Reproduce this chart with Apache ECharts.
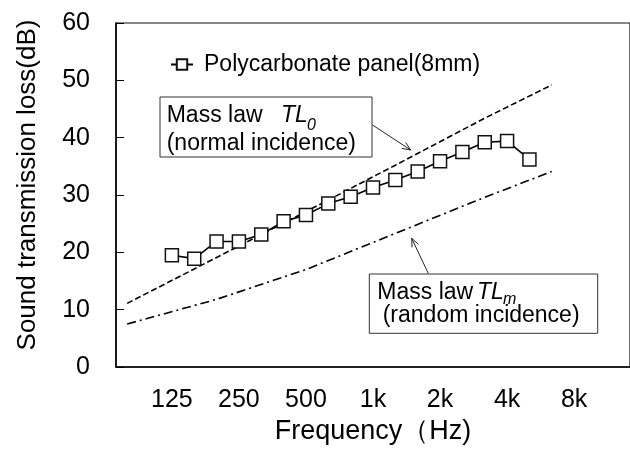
<!DOCTYPE html>
<html>
<head>
<meta charset="utf-8">
<script src="https://cdn.jsdelivr.net/npm/echarts@6/dist/echarts.min.js"></script>
<style>html,body{margin:0;padding:0;background:#fff}#c{width:630px;height:453px}</style>
</head>
<body>
<div id="c"></div>
<script>
// 1/3-octave band centre frequencies on the x axis
const freqBands = ['80','100','125','160','200','250','315','400','500','630','800','1k','1.25k','1.6k','2k','2.5k','3.15k','4k','5k','6.3k','8k','10k','12.5k'];
const tickLabels = ['125','250','500','1k','2k','4k','8k'];

// Measured transmission loss, polycarbonate panel (8mm)
const panelBands = ['125','160','200','250','315','400','500','630','800','1k','1.25k','1.6k','2k','2.5k','3.15k','4k','5k'];
const panelTL = [19.5, 18.9, 21.9, 21.9, 23.1, 25.4, 26.5, 28.5, 29.7, 31.3, 32.6, 34.1, 35.9, 37.5, 39.2, 39.4, 36.2];

// Mass law curves
const massBands = ['80','200','500','1.25k','3.15k','6.3k'];
const massLawNormal = [11.1, 19.1, 27.1, 35.2, 43.4, 49.2];
const massLawRandom = [7.5, 11.8, 17.0, 23.3, 29.6, 34.1];

const seriesName = 'Polycarbonate panel(8mm)';
const FONT = '"Liberation Sans", Arial, sans-serif';

function arrow(x1, y1, x2, y2) {
  const a = Math.atan2(y2 - y1, x2 - x1), L = 9, s = 0.4;
  const p1 = [x2 - L * Math.cos(a - s), y2 - L * Math.sin(a - s)];
  const p2 = [x2 - L * Math.cos(a + s), y2 - L * Math.sin(a + s)];
  return [
    {type: 'line', silent: true, z: 20, shape: {x1, y1, x2, y2}, style: {stroke: '#222', lineWidth: 1}},
    {type: 'polyline', silent: true, z: 20, shape: {points: [p1, [x2, y2], p2]}, style: {stroke: '#222', lineWidth: 1, fill: null}}
  ];
}
function txt(x, y, text, size, italic) {
  return {type: 'text', silent: true, z: 21, x, y,
    style: {text, fill: '#000', font: (italic ? 'italic ' : '') + size + 'px ' + FONT, verticalAlign: 'middle', align: 'left'}};
}

const chart = echarts.init(document.getElementById('c'), null, {renderer: 'canvas'});
chart.setOption({
  animation: false,
  backgroundColor: '#fff',
  textStyle: {fontFamily: FONT, color: '#000'},
  grid: {left: 116, top: 23, width: 523.25, height: 344, show: true, borderColor: '#111', borderWidth: 1.2, backgroundColor: 'transparent'},
  legend: {
    data: [seriesName], left: 165, top: 48, itemWidth: 22, itemHeight: 13,
    textStyle: {fontSize: 23, color: '#000', fontFamily: FONT, padding: [0, 0, 0, 6]}
  },
  xAxis: {
    type: 'category', data: freqBands, boundaryGap: true,
    axisLine: {lineStyle: {color: '#000', width: 1.5}},
    axisTick: {inside: true, length: 5, alignWithLabel: true, interval: 0, lineStyle: {color: '#000', width: 1}},
    axisLabel: {interval: 0, fontSize: 25, color: '#000', margin: 21,
      formatter: v => tickLabels.includes(v) ? v : ''},
    splitLine: {show: false},
    name: 'Frequency（Hz)', nameLocation: 'middle', nameGap: 40,
    nameTextStyle: {fontSize: 27, color: '#000', fontFamily: FONT}
  },
  yAxis: {
    type: 'value', min: 0, max: 60, interval: 10,
    axisLine: {show: true, lineStyle: {color: '#000', width: 1.5}},
    axisTick: {show: true, inside: true, length: 8, lineStyle: {color: '#000', width: 1}},
    axisLabel: {fontSize: 25, color: '#000', margin: 26},
    splitLine: {show: false},
    name: 'Sound transmission loss(dB)', nameLocation: 'middle', nameGap: 75,
    nameTextStyle: {fontSize: 26, color: '#000', fontFamily: FONT, padding: [0, 0, 0, 20]}
  },
  series: [
    {
      name: 'Mass law TL0', type: 'line', z: 2, silent: true, showSymbol: false, symbol: 'none', connectNulls: true,
      data: massBands.map((b, i) => [b, massLawNormal[i]]),
      lineStyle: {color: '#000', width: 1.6, type: [6, 3]}
    },
    {
      name: 'Mass law TLm', type: 'line', z: 2, silent: true, showSymbol: false, symbol: 'none', connectNulls: true,
      data: massBands.map((b, i) => [b, massLawRandom[i]]),
      lineStyle: {color: '#000', width: 1.6, type: [9, 4, 2, 4]}
    },
    {
      name: seriesName, type: 'line', z: 5,
      data: panelBands.map((b, i) => [b, panelTL[i]]),
      symbol: 'rect', symbolSize: 13, showAllSymbol: true,
      itemStyle: {color: '#fff', borderColor: '#111', borderWidth: 1.5},
      lineStyle: {color: '#000', width: 1.6}
    }
  ],
  graphic: [
    {type: 'rect', silent: true, z: 19, shape: {x: 160, y: 97, width: 212, height: 60}, style: {fill: '#fff', stroke: '#333', lineWidth: 1}},
    txt(166.7, 116, 'Mass law', 23, false),
    txt(281, 116, 'TL', 23, true),
    txt(307, 126, '0', 16, true),
    txt(166.7, 144, '(normal incidence)', 23, false),
    ...arrow(372.5, 125, 410.7, 150),
    {type: 'rect', silent: true, z: 19, shape: {x: 369.3, y: 274, width: 228.4, height: 59.3}, style: {fill: '#fff', stroke: '#333', lineWidth: 1}},
    txt(377.3, 292.5, 'Mass law', 23, false),
    txt(477, 292.5, 'TL', 23, true),
    txt(503, 300, 'm', 16, true),
    txt(382.7, 315.5, '(random incidence)', 23, false),
    ...arrow(428.3, 273.5, 411.7, 238.3)
  ]
});
</script>
</body>
</html>
